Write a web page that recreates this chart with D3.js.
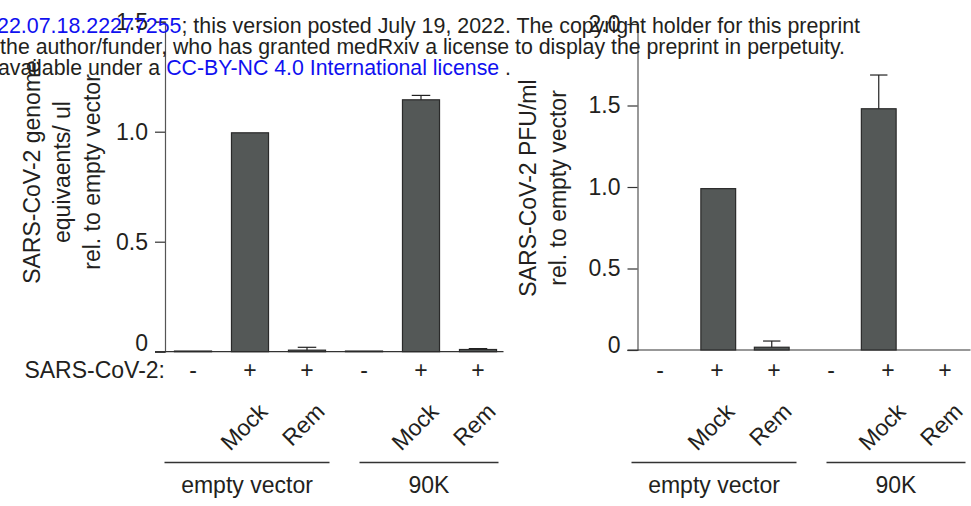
<!DOCTYPE html>
<html>
<head>
<meta charset="UTF-8">
<script src="https://d3js.org/d3.v7.min.js"></script>
<style>
  body { margin: 0; background: #fff; }
  text { font-family: Arial, "Liberation Sans", sans-serif; fill: #231f20; }
</style>
</head>
<body>
<svg id="fig" width="971" height="506"></svg>
<script>
// ---- data ----
var infection = ["-", "+", "+", "-", "+", "+"];
var treatment = ["", "Mock", "Rem", "", "Mock", "Rem"];
var groupNames = ["empty vector", "90K"];
var groupIndex = [0, 0, 0, 1, 1, 1];

var genomeValues = [0.003, 0.995, 0.007, 0.003, 1.145, 0.01];
var genomeErrors = [0, 0, 0.013, 0, 0.02, 0.004];
var genomeTicks = [0, 0.5, 1.0, 1.5];

var pfuValues = [0, 0.99, 0.017, 0, 1.48, 0];
var pfuErrors = [0, 0, 0.038, 0, 0.207, 0];
var pfuTicks = [0, 0.5, 1.0, 1.5, 2.0];

var headerLines = [
  [["medRxiv preprint doi: ", "#231f20"], ["https://doi.org/10.1101/2022.07.18.22277255", "#1010f0"],
   ["; this version posted July 19, 2022. The copyright holder for this preprint", "#231f20"]],
  [["(which was not certified by peer review) is the author/funder, who has granted medRxiv a license to display the preprint in perpetuity.", "#231f20"]],
  [["It is made available under a ", "#231f20"], ["CC-BY-NC 4.0 International license", "#1010f0"], [" .", "#231f20"]]
];

var svg = d3.select("#fig");
var fontSize = 23;
var barFill = "#545857", barStroke = "#2a2a2a", axisColor = "#555";

var charts = [
  { values: genomeValues, errors: genomeErrors, ticks: genomeTicks, ymax: 1.5,
    axisX: 165, barRange: [164.5, 506.5], labRange: [164.5, 506.5], yRange: [351.7, 21.7], zeroLift: 9,
    titles: ["SARS-CoV-2 genome", "equivaents/ ul", "rel. to empty vector"], titleX: [40, 70, 100], titleY: 172,
    rowLabel: "SARS-CoV-2:" },
  { values: pfuValues, errors: pfuErrors, ticks: pfuTicks, ymax: 2.0,
    axisX: 637.5, barRange: [638, 959], labRange: [631.5, 973.5], yRange: [350, 24], zeroLift: 5,
    titles: ["SARS-CoV-2 PFU/ml", "rel. to empty vector"], titleX: [536, 566], titleY: 188,
    rowLabel: null }
];

var idx = d3.range(infection.length);

charts.forEach(function(c) {
  var g = svg.append("g");
  var x = d3.scaleBand().domain(idx).range(c.barRange).paddingInner(0.35).paddingOuter(0.175);
  var xl = d3.scaleBand().domain(idx).range(c.labRange).paddingInner(0).paddingOuter(0);
  var y = d3.scaleLinear().domain([0, c.ymax]).range(c.yRange);

  // y axis
  var yAxis = d3.axisLeft(y).tickValues(c.ticks).tickSize(10).tickPadding(7)
    .tickFormat(function(d) { return d === 0 ? "0" : d3.format(".1f")(d); });
  var ya = g.append("g").attr("transform", "translate(" + c.axisX + ",0)").call(yAxis);
  ya.select(".domain").attr("stroke", axisColor).attr("stroke-width", 1.2);
  ya.selectAll(".tick line").attr("stroke", "#333").attr("stroke-width", 1.2);
  ya.selectAll(".tick text").style("font-size", fontSize + "px").attr("fill", "#333")
    .style("font-family", "Arial, 'Liberation Sans', sans-serif")
    .attr("y", function(d) { return d === 0 ? -c.zeroLift : 0; });

  // baseline
  var xEnd = Math.max(c.barRange[1], c.labRange[1]) - 3;
  g.append("line").attr("x1", c.axisX - 10).attr("x2", xEnd)
    .attr("y1", y(0)).attr("y2", y(0)).attr("stroke", "#333").attr("stroke-width", 1.2);

  // bars
  var shown = idx.filter(function(i) { return c.values[i] > 0; });
  g.selectAll("rect.bar").data(shown).enter().append("rect")
    .attr("class", "bar")
    .attr("x", function(i) { return x(i); })
    .attr("width", x.bandwidth())
    .attr("y", function(i) { return y(c.values[i]); })
    .attr("height", function(i) { return y(0) - y(c.values[i]); })
    .attr("fill", barFill).attr("stroke", barStroke).attr("stroke-width", 1.2);

  // error bars (upper only)
  var errs = idx.filter(function(i) { return c.errors[i] > 0; });
  var capW = x.bandwidth() * 0.5;
  g.selectAll("line.err").data(errs).enter().append("line")
    .attr("x1", function(i) { return x(i) + x.bandwidth() / 2; })
    .attr("x2", function(i) { return x(i) + x.bandwidth() / 2; })
    .attr("y1", function(i) { return y(c.values[i]); })
    .attr("y2", function(i) { return y(c.values[i] + c.errors[i]); })
    .attr("stroke", "#222").attr("stroke-width", 1.2);
  g.selectAll("line.cap").data(errs).enter().append("line")
    .attr("x1", function(i) { return x(i) + x.bandwidth() / 2 - capW / 2; })
    .attr("x2", function(i) { return x(i) + x.bandwidth() / 2 + capW / 2; })
    .attr("y1", function(i) { return y(c.values[i] + c.errors[i]); })
    .attr("y2", function(i) { return y(c.values[i] + c.errors[i]); })
    .attr("stroke", "#222").attr("stroke-width", 1.2);

  // y title
  c.titles.forEach(function(t, k) {
    g.append("text")
      .attr("transform", "translate(" + c.titleX[k] + "," + c.titleY + ") rotate(-90)")
      .attr("text-anchor", "middle").style("font-size", fontSize + "px").text(t);
  });

  // infection row
  g.selectAll("text.sign").data(idx).enter().append("text")
    .attr("x", function(i) { return xl(i) + xl.bandwidth() / 2; })
    .attr("y", 378).attr("text-anchor", "middle")
    .style("font-size", fontSize + "px").text(function(i) { return infection[i]; });
  if (c.rowLabel) {
    g.append("text").attr("x", c.axisX).attr("y", 378).attr("text-anchor", "end")
      .style("font-size", fontSize + "px").text(c.rowLabel);
  }

  // treatment labels
  g.selectAll("text.treat").data(idx.filter(function(i) { return treatment[i]; })).enter().append("text")
    .attr("transform", function(i) {
      return "translate(" + (xl(i) + xl.bandwidth() / 2 + 19) + ",413) rotate(-45)";
    })
    .attr("text-anchor", "end").style("font-size", fontSize + "px")
    .text(function(i) { return treatment[i]; });

  // group brackets
  groupNames.forEach(function(name, gi) {
    var members = idx.filter(function(i) { return groupIndex[i] === gi; });
    var x0 = xl(members[0]) + (gi > 0 ? 24 : 0);
    var x1 = xl(members[members.length - 1]) + xl.bandwidth() - (gi > 0 ? 0 : 6);
    g.append("line").attr("x1", x0).attr("x2", Math.min(x1, xEnd - 5)).attr("y1", 462.5).attr("y2", 462.5)
      .attr("stroke", "#333").attr("stroke-width", 1.5);
    g.append("text").attr("x", (x0 + Math.min(x1, xEnd - 5)) / 2).attr("y", 493).attr("text-anchor", "middle")
      .style("font-size", fontSize + "px").text(name);
  });
});

// preprint watermark header
var headerAnchorX = [860, 845, 511];
var headerY = [33, 54, 75];
var headerSize = [21.4, 21.3, 21.3];
headerLines.forEach(function(parts, k) {
  var t = svg.append("text").attr("x", headerAnchorX[k]).attr("y", headerY[k])
    .attr("text-anchor", "end").style("font-size", headerSize[k] + "px");
  parts.forEach(function(p) {
    t.append("tspan").style("fill", p[1]).text(p[0]);
  });
});
</script>
</body>
</html>
